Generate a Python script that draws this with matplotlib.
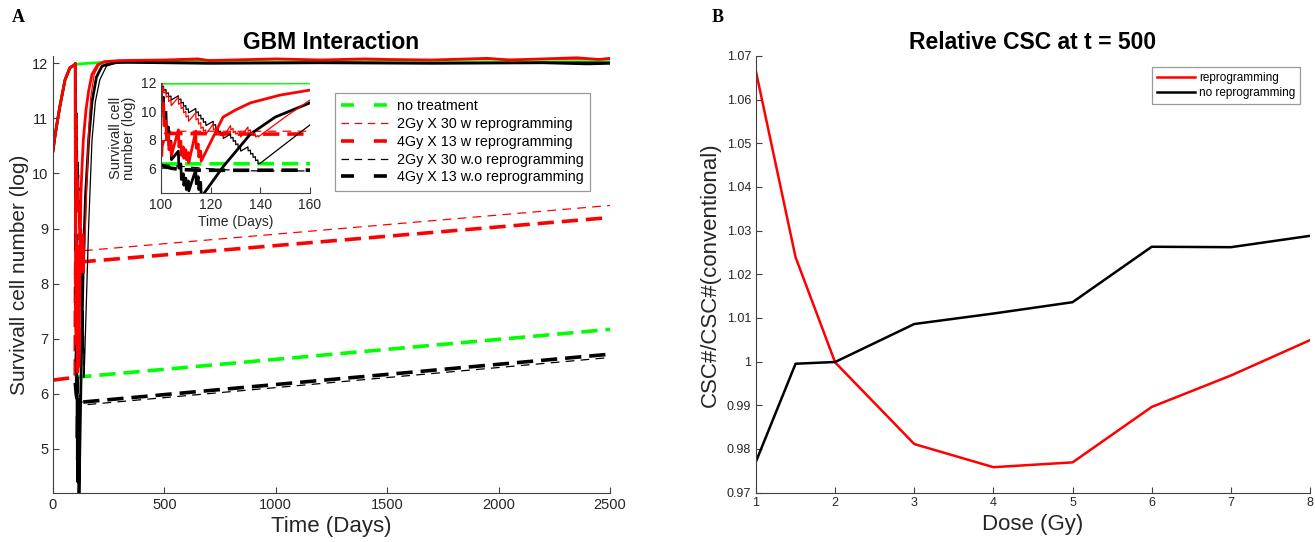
import matplotlib
matplotlib.use("Agg")
import matplotlib.pyplot as plt
from matplotlib.lines import Line2D

plt.rcParams['font.family'] = ['Liberation Sans', 'DejaVu Sans']

# ---------------- Panel A data ----------------
# pre-treatment growth (shared)
t_pre = [0, 8, 16, 31, 54, 76, 100]
y_pre = [10.41, 10.65, 10.86, 11.22, 11.7, 11.92, 11.98]

# no treatment, total cells
t_nt = [100, 150, 250, 800, 1500, 2500]
y_nt = [11.98, 12.0, 12.02, 12.02, 12.02, 12.03]

# 4Gy x 13 with reprogramming, total cells
t_r4 = [100, 100.2, 101, 101.2, 102, 102.2, 103, 103.2, 104, 104.2, 107, 107.2, 108, 108.2,
        109, 109.2, 110, 110.2, 111, 111.2, 114, 114.2, 115, 115.2, 116, 116.2, 125, 130, 136,
        148, 160, 175, 200, 230, 300, 500, 650, 700, 900, 1000, 1200, 1400, 1500, 1700, 1950,
        2050, 2350, 2450, 2500]
y_r4 = [12.0, 10.2, 10.6, 9.0, 9.3, 8.0, 8.4, 7.3, 7.8, 6.9, 8.7, 7.5, 7.9, 6.9,
        7.5, 6.7, 7.3, 6.6, 7.1, 6.4, 8.6, 7.4, 7.7, 6.8, 7.2, 6.5, 9.6, 10.1, 10.6,
        11.15, 11.5, 11.8, 11.97, 12.03, 12.05, 12.06, 12.08, 12.05, 12.07, 12.08, 12.06, 12.08,
        12.07, 12.06, 12.09, 12.06, 12.1, 12.07, 12.09]

# 2Gy x 30 with reprogramming, total cells
t_r2 = [100, 100.1, 101, 101.1, 102, 102.1, 103, 103.1, 104, 104.1,
        107, 107.1, 108, 108.1, 109, 109.1, 110, 110.1, 111, 111.1,
        114, 114.1, 115, 115.1, 116, 116.1, 117, 117.1, 118, 118.1,
        121, 121.1, 122, 122.1, 123, 123.1, 124, 124.1, 125, 125.1,
        128, 128.1, 129, 129.1, 130, 130.1, 131, 131.1, 132, 132.1,
        135, 135.1, 136, 136.1, 137, 137.1, 138, 138.1, 139, 139.1,
        150, 160, 170, 185, 210, 250, 500, 800, 1100, 1500, 2000, 2500]
y_r2 = [12.0, 11.5, 11.7, 11.3, 11.4, 11.0, 11.1, 10.7, 10.8, 10.4,
        11.0, 10.5, 10.6, 10.2, 10.3, 9.9, 10.0, 9.6, 9.7, 9.3,
        9.9, 9.4, 9.5, 9.1, 9.2, 8.8, 8.9, 8.6, 8.7, 8.4,
        9.1, 8.7, 8.8, 8.5, 8.6, 8.4, 8.5, 8.3, 8.4, 8.2,
        9.0, 8.7, 8.8, 8.5, 8.6, 8.4, 8.5, 8.3, 8.4, 8.2,
        8.9, 8.6, 8.7, 8.4, 8.5, 8.3, 8.4, 8.2, 8.3, 8.2,
        9.6, 10.8, 11.4, 11.8, 12.0, 12.04, 12.06, 12.06, 12.07, 12.06, 12.07, 12.08]

# 2Gy x 30 without reprogramming, total cells
t_k2 = [100, 100.1, 101, 101.1, 102, 102.1, 103, 103.1, 104, 104.1,
        107, 107.1, 108, 108.1, 109, 109.1, 110, 110.1, 111, 111.1,
        114, 114.1, 115, 115.1, 116, 116.1, 117, 117.1, 118, 118.1,
        121, 121.1, 122, 122.1, 123, 123.1, 124, 124.1, 125, 125.1,
        128, 128.1, 129, 129.1, 130, 130.1, 131, 131.1, 132, 132.1,
        135, 135.1, 136, 136.1, 137, 137.1, 138, 138.1, 139, 139.1,
        140, 160, 175, 190, 210, 240, 280, 350, 800, 1300, 1800, 2300, 2500]
y_k2 = [12.0, 11.72, 11.77, 11.49, 11.54, 11.26, 11.31, 11.03, 11.08, 10.80,
        11.1, 10.82, 10.87, 10.59, 10.64, 10.36, 10.41, 10.13, 10.18, 9.90,
        10.2, 9.92, 9.97, 9.69, 9.74, 9.46, 9.51, 9.23, 9.28, 9.00,
        9.3, 9.02, 9.07, 8.79, 8.84, 8.56, 8.61, 8.33, 8.38, 8.10,
        8.4, 8.12, 8.17, 7.89, 7.94, 7.66, 7.71, 7.43, 7.48, 7.20,
        7.5, 7.22, 7.27, 6.99, 7.04, 6.76, 6.81, 6.53, 6.58, 6.30,
        6.35, 9.05, 10.6, 11.3, 11.7, 11.95, 12.0, 12.02, 12.01, 12.02, 12.0, 12.02, 12.02]

# 4Gy x 13 without reprogramming, total cells
t_k4 = [100, 100.2, 101, 101.2, 102, 102.2, 103, 103.2, 104, 104.2, 107, 107.2, 108, 108.2,
        109, 109.2, 110, 110.2, 111, 111.2, 114, 114.2, 115, 115.2, 116, 116.2, 117, 125,
        136, 146, 160, 175, 195, 220, 260, 300, 700, 1200, 1700, 2200, 2400, 2500]
y_k4 = [12.0, 10.8, 11.0, 9.6, 9.9, 8.6, 8.9, 7.6, 7.9, 6.6, 7.2, 6.0, 6.3, 5.2,
        5.6, 4.8, 5.3, 4.5, 5.1, 4.4, 5.9, 4.9, 5.4, 4.5, 5.0, 4.0, 4.15, 6.1,
        8.4, 9.6, 10.6, 11.3, 11.75, 11.95, 12.0, 12.02, 12.0, 12.01, 12.0, 12.01, 11.99, 12.0]

# dashed (CSC) curves
t_nt_d = [100, 2500]
y_nt_d = [6.3, 7.17]
t_r4_d = [0, 100, 100.3, 101, 102, 140, 2500]
y_r4_d = [6.25, 6.3, 7.5, 8.0, 8.45, 8.4, 9.2]
t_r2_d = [100, 100.5, 101, 102, 140, 2500]
y_r2_d = [6.3, 7.6, 8.3, 8.6, 8.6, 9.42]
t_k2_d = [100, 110, 120, 130, 140, 2500]
y_k2_d = [6.25, 6.1, 5.95, 5.85, 5.8, 6.66]
t_k4_d = [100, 104, 108, 117, 130, 2500]
y_k4_d = [6.2, 6.0, 5.9, 5.85, 5.85, 6.72]

legend_labels_a = ['no treatment', '2Gy X 30 w reprogramming', '4Gy X 13 w reprogramming',
                   '2Gy X 30 w.o reprogramming', '4Gy X 13 w.o reprogramming']

# ---------------- Panel B data ----------------
dose = [1, 1.5, 2, 3, 4, 5, 6, 7, 8]
rel_repro = [1.0664, 1.0239, 0.9998, 0.9811, 0.9758, 0.9769, 0.9896, 0.9968, 1.0049]
rel_norepro = [0.9771, 0.9995, 0.9999, 1.0086, 1.0110, 1.0136, 1.0263, 1.0262, 1.0288]

GREEN = '#00ff00'
RED = '#ff0000'
BLACK = '#000000'
AXC = '#404040'
TXT = '#262626'

TH_D = dict(lw=2.6, dashes=(4.5, 2.2))
TN_D = dict(lw=0.9, dashes=(7, 5))

fig = plt.figure(figsize=(13.15, 5.42), dpi=100)


def style(ax, fs=11):
    for s in ['top', 'right']:
        ax.spines[s].set_visible(False)
    for s in ['left', 'bottom']:
        ax.spines[s].set_color(AXC)
        ax.spines[s].set_linewidth(0.8)
    ax.tick_params(direction='in', length=4, width=0.8, colors=AXC, labelcolor=TXT, labelsize=fs)


def draw_curves(ax):
    ax.plot(t_nt_d, y_nt_d, color=GREEN, **TH_D)
    ax.plot(t_k2_d, y_k2_d, color=BLACK, **TN_D)
    ax.plot(t_k4_d, y_k4_d, color=BLACK, **TH_D)
    ax.plot(t_r2_d, y_r2_d, color=RED, **TN_D)
    ax.plot(t_r4_d, y_r4_d, color=RED, **TH_D)
    ax.plot(t_pre + t_nt, y_pre + y_nt, color=GREEN, lw=2.0)
    ax.plot(t_pre + t_k2, y_pre + y_k2, color=BLACK, lw=0.9)
    ax.plot(t_pre + t_k4, y_pre + y_k4, color=BLACK, lw=2.0)
    ax.plot(t_pre + t_r2, y_pre + y_r2, color=RED, lw=0.9)
    ax.plot(t_pre + t_r4, y_pre + y_r4, color=RED, lw=2.0)


# ---------- Panel A main ----------
axA = fig.add_axes([0.0403, 0.0904, 0.4236, 0.806])
draw_curves(axA)
axA.set_xlim(0, 2500)
axA.set_ylim(4.2, 12.13)
axA.set_xticks([0, 500, 1000, 1500, 2000, 2500])
axA.set_yticks([5, 6, 7, 8, 9, 10, 11, 12])
style(axA, 10.5)
axA.set_title('GBM Interaction', fontsize=16.5, fontweight='bold', pad=5, color='black')
axA.set_xlabel('Time (Days)', fontsize=16, color=TXT, labelpad=3)
axA.set_ylabel('Survivall cell number (log)', fontsize=15, color=TXT, labelpad=2)

handles = [Line2D([], [], color=GREEN, lw=2.6, dashes=(3.6, 5.5)),
           Line2D([], [], color=RED, lw=0.9, dashes=(6, 4.5)),
           Line2D([], [], color=RED, lw=2.6, dashes=(3.6, 5.5)),
           Line2D([], [], color=BLACK, lw=0.9, dashes=(6, 4.5)),
           Line2D([], [], color=BLACK, lw=2.6, dashes=(3.6, 5.5))]
legA = fig.legend(handles, legend_labels_a, loc='upper left',
                  bbox_to_anchor=(335 / 1315, 1 - 93 / 542), fontsize=10.3,
                  frameon=True, fancybox=False, edgecolor='#808080', handlelength=3.27,
                  handletextpad=0.6, labelspacing=0.26, borderpad=0.45, borderaxespad=0)
legA.get_frame().set_linewidth(0.9)

# ---------- Panel A inset ----------
axI = fig.add_axes([161 / 1315, 1 - 193 / 542, 149 / 1315, 110 / 542])
draw_curves(axI)
axI.set_xlim(100, 160)
axI.set_ylim(4.25, 12.0)
axI.set_xticks([100, 120, 140, 160])
axI.set_yticks([6, 8, 10, 12])
style(axI, 10)
axI.set_xlabel('Time (Days)', fontsize=10, color=TXT, labelpad=2)
axI.set_ylabel('Survivall cell\nnumber (log)', fontsize=10.5, color=TXT, labelpad=3, linespacing=0.95)

# ---------- Panel B ----------
axB = fig.add_axes([756 / 1315, 1 - 492.5 / 542, 554 / 1315, 436.5 / 542])
axB.plot(dose, rel_repro, color=RED, lw=1.8, label='reprogramming')
axB.plot(dose, rel_norepro, color=BLACK, lw=1.8, label='no reprogramming')
axB.set_xlim(1, 8)
axB.set_ylim(0.97, 1.07)
axB.set_xticks([1, 2, 3, 4, 5, 6, 7, 8])
yt = [0.97, 0.98, 0.99, 1.0, 1.01, 1.02, 1.03, 1.04, 1.05, 1.06, 1.07]
axB.set_yticks(yt)
axB.set_yticklabels(['0.97', '0.98', '0.99', '1', '1.01', '1.02', '1.03', '1.04', '1.05', '1.06', '1.07'])
style(axB, 9)
axB.set_title('Relative CSC at t = 500', fontsize=16.5, fontweight='bold', pad=5, color='black')
axB.set_xlabel('Dose (Gy)', fontsize=16, color=TXT, labelpad=3)
axB.set_ylabel('CSC#/CSC#(conventional)', fontsize=16, color=TXT, labelpad=4)
legB = axB.legend(loc='upper right', bbox_to_anchor=(1 - 10 / 554, 1 - 11 / 436.5), fontsize=8.5,
                  frameon=True, fancybox=False, edgecolor='#808080', handlelength=3.3,
                  handletextpad=0.3, labelspacing=0.3, borderpad=0.4, borderaxespad=0)
legB.get_frame().set_linewidth(0.9)

# panel letters
fig.text(12 / 1315, 1 - 18 / 542, 'A', fontsize=13, fontweight='bold', family='Liberation Serif',
         va='center', ha='left')
fig.text(712 / 1315, 1 - 18 / 542, 'B', fontsize=13, fontweight='bold', family='Liberation Serif',
         va='center', ha='left')

fig.savefig('out.png', dpi=100)
